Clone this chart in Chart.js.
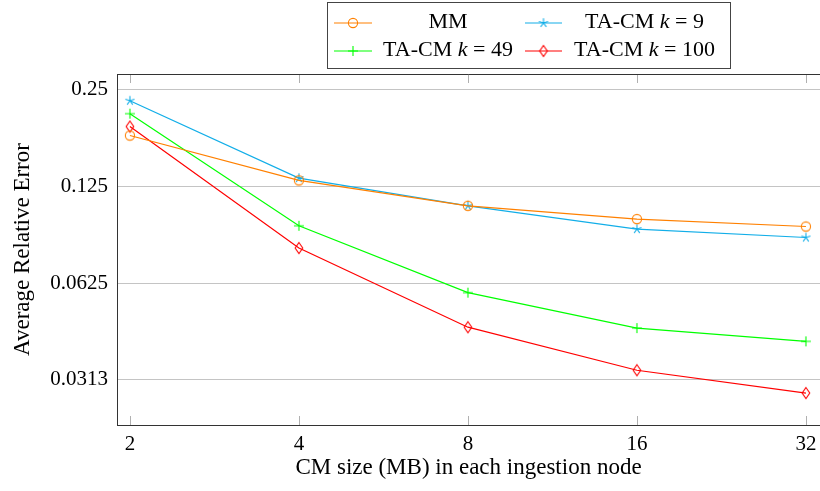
<!DOCTYPE html>
<html><head><meta charset="utf-8">
<script src="https://cdn.jsdelivr.net/npm/chart.js@4.4.0/dist/chart.umd.min.js"></script>
<style>html,body{margin:0;padding:0;background:#fff}#wrap{width:820px;height:491px}</style>
</head><body><div id="wrap"><canvas id="c" width="820" height="491"></canvas></div>
<script>
// ---- data ----
const sizes = [2, 4, 8, 16, 32];
const xTickLabels = ['2', '4', '8', '16', '32'];
const yTicks = [0.03125, 0.0625, 0.125, 0.25];
const yTickLabels = ['0.0313', '0.0625', '0.125', '0.25'];
const mm   = [0.180, 0.1305, 0.1088, 0.0989, 0.0938];
const k9   = [0.231, 0.1327, 0.1088, 0.0921, 0.0867];
const k49  = [0.2105, 0.0943, 0.0584, 0.0453, 0.0412];
const k100 = [0.192, 0.0804, 0.0456, 0.0335, 0.02845];
const seriesLabels = ['MM', 'TA-CM k = 9', 'TA-CM k = 49', 'TA-CM k = 100'];

const FONT = "'Liberation Serif', 'DejaVu Serif', serif";
const FS = 21, FT = 23, FL = 22;
const ORANGE = '#ff8000', CYAN = '#12aee8', GREEN = '#00ff00', RED = '#ff0000';

function mk(kind, color) {
  const c = document.createElement('canvas');
  c.width = 14; c.height = 14;
  const g = c.getContext('2d');
  g.strokeStyle = color; g.lineWidth = 1.1;
  const cx = 7, cy = 7;
  g.beginPath();
  if (kind === 'circle') {
    g.arc(cx, cy, 4.6, 0, Math.PI * 2);
  } else if (kind === 'star') {
    for (let i = 0; i < 5; i++) {
      const a = -Math.PI / 2 + i * 2 * Math.PI / 5;
      g.moveTo(cx, cy); g.lineTo(cx + 4.8 * Math.cos(a), cy + 4.8 * Math.sin(a));
    }
  } else if (kind === 'plus') {
    g.moveTo(cx - 5, cy); g.lineTo(cx + 5, cy);
    g.moveTo(cx, cy - 5); g.lineTo(cx, cy + 5);
  } else if (kind === 'diamond') {
    g.moveTo(cx, cy - 5.5); g.lineTo(cx + 3.8, cy); g.lineTo(cx, cy + 5.5); g.lineTo(cx - 3.8, cy); g.closePath();
  }
  g.stroke();
  return c;
}
const markers = [mk('circle', ORANGE), mk('star', CYAN), mk('plus', GREEN), mk('diamond', RED)];
const colors = [ORANGE, CYAN, GREEN, RED];
const seriesData = [mm, k9, k49, k100];

const pts = arr => arr.map((v, i) => ({ x: sizes[i], y: v }));

const extras = {
  id: 'extras',
  beforeDatasetsDraw(chart) {
    const { ctx, chartArea: a, scales: { x } } = chart;
    ctx.save();
    ctx.strokeStyle = '#b0b0b0'; ctx.lineWidth = 1;
    sizes.forEach(v => {
      const px = Math.round(x.getPixelForValue(v)) + 0.5;
      ctx.beginPath();
      ctx.moveTo(px, a.bottom); ctx.lineTo(px, a.bottom - 9);
      ctx.moveTo(px, a.top); ctx.lineTo(px, a.top + 9);
      ctx.stroke();
    });
    ctx.restore();
  },
  afterDraw(chart) {
    const { ctx, chartArea: a } = chart;
    ctx.save();
    ctx.strokeStyle = '#333'; ctx.lineWidth = 1;
    ctx.beginPath(); ctx.moveTo(a.left, Math.round(a.top) + 0.5); ctx.lineTo(a.right, Math.round(a.top) + 0.5); ctx.stroke();
    // legend
    const L = { x: 327.5, y: 2.5, w: 403, h: 66 };
    ctx.fillStyle = '#fff'; ctx.fillRect(L.x, L.y, L.w, L.h);
    ctx.strokeStyle = '#444'; ctx.strokeRect(L.x, L.y, L.w, L.h);
    const cols = [{ l0: 334, l1: 372, tc: 448 }, { l0: 525, l1: 562, tc: 644.5 }];
    const rows = [23, 51];
    const order = [[0, 0, 0], [1, 1, 0], [2, 0, 1], [3, 1, 1]];
    order.forEach(([i, c, r]) => {
      const col = cols[c], y = rows[r];
      ctx.strokeStyle = colors[i]; ctx.lineWidth = 1.2;
      ctx.beginPath(); ctx.moveTo(col.l0, y); ctx.lineTo(col.l1, y); ctx.stroke();
      const m = markers[i];
      ctx.drawImage(m, (col.l0 + col.l1) / 2 - m.width / 2, y - m.height / 2);
      // text with italic k
      const label = seriesLabels[i];
      const parts = [];
      const idx = label.indexOf(' k ');
      if (idx >= 0) {
        parts.push([label.slice(0, idx + 1), false]);
        parts.push(['k', true]);
        parts.push([label.slice(idx + 2), false]);
      } else parts.push([label, false]);
      const fN = FL + 'px ' + FONT, fI = 'italic ' + FL + 'px ' + FONT;
      let w = 0;
      parts.forEach(p => { ctx.font = p[1] ? fI : fN; w += ctx.measureText(p[0]).width; });
      let tx = col.tc - w / 2;
      ctx.fillStyle = '#000'; ctx.textBaseline = 'middle';
      parts.forEach(p => { ctx.font = p[1] ? fI : fN; ctx.fillText(p[0], tx, y - 1); tx += ctx.measureText(p[0]).width; });
    });
    ctx.restore();
  }
};

new Chart(document.getElementById('c'), {
  type: 'line',
  data: {
    datasets: seriesData.map((d, i) => ({
      label: seriesLabels[i],
      data: pts(d),
      borderColor: colors[i],
      borderWidth: 1.2,
      pointStyle: markers[i],
      pointRadius: 5,
      pointHoverRadius: 5,
      tension: 0,
      fill: false
    }))
  },
  options: {
    responsive: false,
    animation: false,
    devicePixelRatio: 1,
    layout: { autoPadding: false, padding: { top: 74, left: 0, right: 0, bottom: 0 } },
    plugins: { legend: { display: false }, tooltip: { enabled: false } },
    scales: {
      x: {
        type: 'logarithmic', min: 1.897, max: 33.9,
        afterBuildTicks: s => { s.ticks = sizes.map(v => ({ value: v })); },
        afterFit: s => { s.height = 66; s.paddingRight = 0; s.paddingLeft = 0; },
        ticks: { callback: (v, i) => xTickLabels[i], font: { family: FONT, size: FS }, color: '#000', padding: 7, maxRotation: 0, autoSkip: false },
        grid: { display: false, drawTicks: false },
        border: { display: true, color: '#333', width: 1 },
        title: { display: true, text: 'CM size (MB) in each ingestion node', font: { family: FONT, size: FT }, color: '#000', padding: { top: 0, bottom: 9 } }
      },
      y: {
        type: 'logarithmic', min: 0.02263, max: 0.2797,
        afterBuildTicks: s => { s.ticks = yTicks.map(v => ({ value: v })); },
        afterFit: s => { s.width = 117; s.paddingTop = 0; s.paddingBottom = 0; },
        ticks: { callback: (v, i) => yTickLabels[i], font: { family: FONT, size: FS }, color: '#000', padding: 9, autoSkip: false },
        grid: { color: '#c4c4c4', lineWidth: 1, drawTicks: false },
        border: { display: true, color: '#333', width: 1 },
        title: { display: true, text: 'Average Relative Error', font: { family: FONT, size: FT }, color: '#000', padding: { top: 9, bottom: 0 } }
      }
    }
  },
  plugins: [extras]
});
</script></body></html>
